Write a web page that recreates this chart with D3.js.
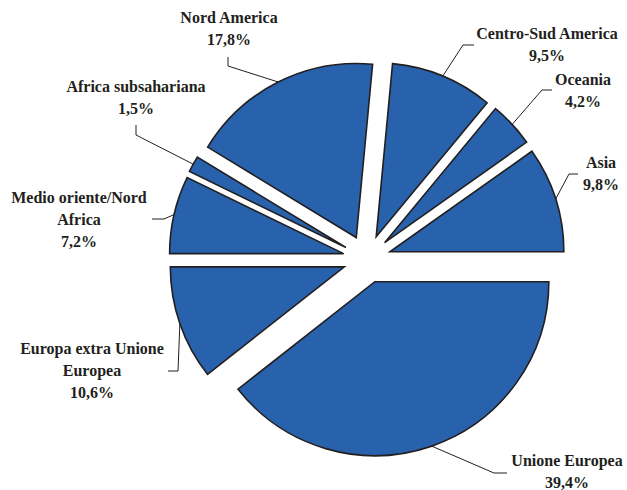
<!DOCTYPE html>
<html>
<head>
<meta charset="utf-8">
<script src="https://cdn.jsdelivr.net/npm/d3@7"></script>
<style>
  html, body { margin: 0; padding: 0; background: #fff; }
  svg { display: block; }
</style>
</head>
<body>
<svg id="chart" width="627" height="490"></svg>
<script>
// Share of the total by area (percent)
const areas = ["Unione Europea", "Europa extra Unione Europea", "Medio oriente/Nord Africa",
               "Africa subsahariana", "Nord America", "Centro-Sud America", "Oceania", "Asia"];
const shares = [39.4, 10.6, 7.2, 1.5, 17.8, 9.5, 4.2, 9.8];
// Label text, line by line, for each area
const labelLines = [
  ["Unione Europea", "39,4%"],
  ["Europa extra Unione", "Europea", "10,6%"],
  ["Medio oriente/Nord", "Africa", "7,2%"],
  ["Africa subsahariana", "1,5%"],
  ["Nord America", "17,8%"],
  ["Centro-Sud America", "9,5%"],
  ["Oceania", "4,2%"],
  ["Asia", "9,8%"]
];

// Layout: pie geometry and label placement
const cx = 367, cy = 259, radius = 174, explode = 24;
const lineGap = 22;
// text centre x, first baseline y, and leader elbow points
const labelLayout = [
  { x: 567, y: 466, elbow: [[507, 473], [494, 473]] },
  { x: 92,  y: 354, elbow: [[168, 371], [178, 371]] },
  { x: 79,  y: 203, elbow: [[152, 219], [164, 219]] },
  { x: 136, y: 92,  elbow: [[136, 125], [136, 135]] },
  { x: 229, y: 23,  elbow: [[228, 57], [228, 66]] },
  { x: 547, y: 39,  elbow: [[474, 45], [463, 45]] },
  { x: 583, y: 85,  elbow: [[552, 90], [542, 90]] },
  { x: 601, y: 168, elbow: [[578, 174], [569, 174]] }
];

const svg = d3.select("#chart");

const pie = d3.pie()
  .sort(null)
  .startAngle(Math.PI / 2)
  .endAngle(Math.PI / 2 + 2 * Math.PI);

const arcs = pie(shares);
const arc = d3.arc().innerRadius(0).outerRadius(radius);
const edge = d3.arc().innerRadius(radius).outerRadius(radius);

const g = svg.append("g").attr("transform", `translate(${cx},${cy})`);

function offset(d) {
  const a = (d.startAngle + d.endAngle) / 2;
  return [Math.sin(a) * explode, -Math.cos(a) * explode];
}

g.selectAll("path.slice")
  .data(arcs)
  .join("path")
  .attr("class", "slice")
  .attr("transform", d => { const o = offset(d); return `translate(${o[0]},${o[1]})`; })
  .attr("d", arc)
  .attr("fill", "#2862ac")
  .attr("stroke", "#231f20")
  .attr("stroke-width", 1.6)
  .attr("stroke-linejoin", "miter");

// Leader lines: from the middle of each outer arc, through the elbow, to the label
const line = d3.line();
arcs.forEach((d, i) => {
  const o = offset(d);
  const c = edge.centroid(d);
  const p = [cx + o[0] + c[0], cy + o[1] + c[1]];
  const pts = labelLayout[i].elbow.concat([p]);
  svg.append("path")
    .attr("d", line(pts))
    .attr("fill", "none")
    .attr("stroke", "#231f20")
    .attr("stroke-width", 1);
});

// Labels
labelLines.forEach((lines, i) => {
  const L = labelLayout[i];
  const t = svg.append("text")
    .attr("font-family", "'Liberation Serif', 'Times New Roman', Times, serif")
    .attr("font-weight", "bold")
    .attr("font-size", 16)
    .attr("fill", "#231f20")
    .attr("text-anchor", "middle");
  lines.forEach((s, j) => {
    t.append("tspan").attr("x", L.x).attr("y", L.y + j * lineGap).text(s);
  });
});
</script>
</body>
</html>
